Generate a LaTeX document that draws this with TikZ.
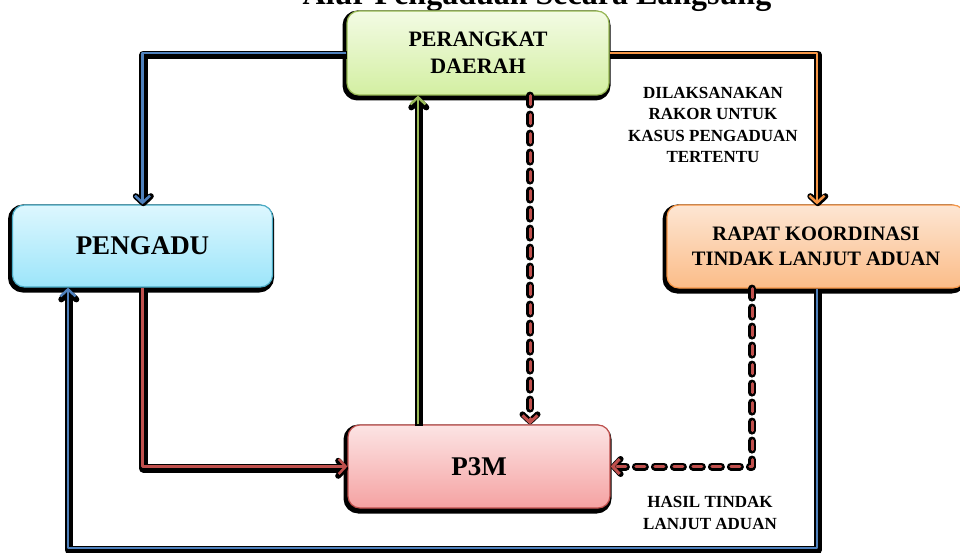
\documentclass[tikz,border=0pt]{standalone}
\usepackage{fontspec}
\setmainfont{Liberation Serif}
\usetikzlibrary{arrows.meta}
\definecolor{pdtop}{HTML}{F3FBE4}\definecolor{pdbot}{HTML}{D3EFA2}\definecolor{pdbrd}{HTML}{98B954}
\definecolor{pgtop}{HTML}{DDF7FE}\definecolor{pgbot}{HTML}{9CE5FA}\definecolor{pgbrd}{HTML}{4AACC6}
\definecolor{rktop}{HTML}{FDE6D3}\definecolor{rkbot}{HTML}{FBBC88}\definecolor{rkbrd}{HTML}{F79646}
\definecolor{p3top}{HTML}{FCE4E4}\definecolor{p3bot}{HTML}{F5A2A2}\definecolor{p3brd}{HTML}{C0504D}
\definecolor{lblue}{HTML}{4F81BD}\definecolor{lorange}{HTML}{F79646}
\definecolor{lred}{HTML}{C0504D}\definecolor{lgreen}{HTML}{9BBB59}
\tikzset{
  box/.style n args={3}{rounded corners=12pt, draw=#3, line width=1.2pt,
    top color=#1, bottom color=#2, align=center, inner sep=0pt, font=\bfseries,
    preaction={draw=black, line width=6pt, transform canvas={shift={(-1.5pt,-2.5pt)}}}},
  shline/.style={draw=black, line width=8.5pt, line join=round,
    -{Straight Barb[length=7pt,width=15pt,line width=6pt,round]}, transform canvas={shift={(0.8pt,-1.8pt)}}},
  colline/.style={draw=#1, line width=2.5pt, line join=round,
    -{Straight Barb[length=7pt,width=15pt]}},
  shdash/.style={draw=black, line width=8pt, line cap=round, line join=round,
    dash pattern=on 9pt off 10pt, -{Straight Barb[length=7pt,width=15pt,line width=6pt,round]}},
  coldash/.style={draw=#1, line width=3pt, line cap=round, line join=round,
    dash pattern=on 9pt off 10pt, -{Straight Barb[length=7pt,width=15pt]}},
  lbl/.style={align=center, font=\bfseries\fontsize{17}{21.5}\selectfont, inner sep=0pt}
}
\begin{document}
\begin{tikzpicture}[x=1pt,y=-1pt]
\useasboundingbox[fill=white] (0,0) rectangle (960,553);
\clip (0,0) rectangle (960,553);

% title
\node[anchor=base, font=\bfseries\fontsize{32}{32}\selectfont, inner sep=0pt] (title) at (537,5) {Alur Pengaduan Secara Langsung};

% helper coordinates
\coordinate (x418) at (418,0);
\coordinate (x530) at (530,0);
\coordinate (x752) at (752,0);
\coordinate (x817) at (817,0);
\coordinate (bl) at (68,548);

% boxes
\node[box={pdtop}{pdbot}{pdbrd}, minimum width=262pt, minimum height=84pt,
      font=\bfseries\fontsize{22}{27}\selectfont] (pd) at (478,53) {PERANGKAT\\DAERAH};
\node[box={pgtop}{pgbot}{pgbrd}, minimum width=260pt, minimum height=82pt,
      font=\bfseries\fontsize{27}{30}\selectfont] (pg) at (142.5,246) {PENGADU};
\node[box={rktop}{rkbot}{rkbrd}, minimum width=298pt, minimum height=83pt,
      font=\bfseries\fontsize{20.5}{25}\selectfont] (rk) at (816,246.5) {RAPAT KOORDINASI\\TINDAK LANJUT ADUAN};
\node[box={p3top}{p3bot}{p3brd}, minimum width=262pt, minimum height=83pt,
      font=\bfseries\fontsize{27}{30}\selectfont] (p3) at (479,466.5) {P3M};

% labels
\node[lbl] (l1) at (713,125) {DILAKSANAKAN\\RAKOR UNTUK\\KASUS PENGADUAN\\TERTENTU};
\node[lbl] (l2) at (710,513) {HASIL TINDAK\\LANJUT ADUAN};

% blue: perangkat -> pengadu
\draw[shline] (pd.west) -| (pg.north);
\draw[colline=lblue] (pd.west) -| (pg.north);
% orange: perangkat -> rapat
\draw[shline] (pd.east) -| (x817 |- rk.north);
\draw[colline=lorange] (pd.east) -| (x817 |- rk.north);
% red: pengadu -> p3m
\draw[shline] (pg.south) |- (p3.west);
\draw[colline=lred] (pg.south) |- (p3.west);
% green: p3m -> perangkat
\draw[shline] (x418 |- p3.north) -- (x418 |- pd.south);
\draw[colline=lgreen] (x418 |- p3.north) -- (x418 |- pd.south);
% blue: rapat -> pengadu
\draw[shline] (x817 |- rk.south) |- (bl) -- (bl |- pg.south);
\draw[colline=lblue] (x817 |- rk.south) |- (bl) -- (bl |- pg.south);
% red dashed: perangkat -> p3m
\draw[shdash] (x530 |- pd.south) -- (x530 |- p3.north);
\draw[coldash=lred] (x530 |- pd.south) -- (x530 |- p3.north);
% red dashed: rapat -> p3m
\draw[shdash] (x752 |- rk.south) |- (p3.east);
\draw[coldash=lred] (x752 |- rk.south) |- (p3.east);
\end{tikzpicture}
\end{document}
